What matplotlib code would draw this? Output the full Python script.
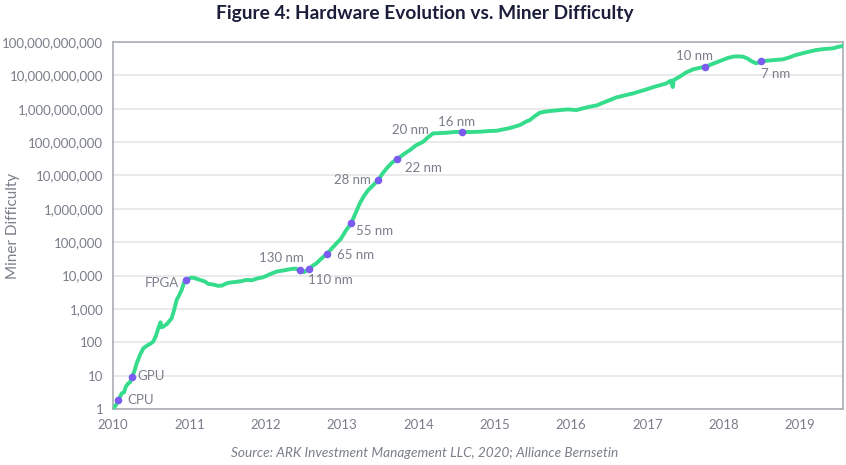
import numpy as np
import matplotlib.pyplot as plt
from matplotlib.ticker import FixedLocator, FuncFormatter

# Difficulty line (year, log10 of difficulty)
years = [
    2010.000, 2010.039, 2010.069, 2010.114, 2010.144, 2010.170, 2010.200, 2010.223,
    2010.245, 2010.275, 2010.310, 2010.353, 2010.397, 2010.445, 2010.484, 2010.527,
    2010.563, 2010.593, 2010.622, 2010.628, 2010.658, 2010.707, 2010.768, 2010.798,
    2010.834, 2010.864, 2010.899, 2010.929, 2010.952, 2010.982, 2011.030, 2011.073,
    2011.139, 2011.204, 2011.247, 2011.313, 2011.378, 2011.427, 2011.479, 2011.531,
    2011.610, 2011.675, 2011.750, 2011.819, 2011.885, 2011.967, 2012.055, 2012.143,
    2012.225, 2012.317, 2012.382, 2012.448, 2012.500, 2012.569, 2012.618, 2012.666,
    2012.723, 2012.797, 2012.853, 2012.928, 2012.984, 2013.050, 2013.119, 2013.181,
    2013.233, 2013.285, 2013.342, 2013.403, 2013.473, 2013.527, 2013.582, 2013.652,
    2013.721, 2013.796, 2013.887, 2013.966, 2014.062, 2014.123, 2014.192, 2014.280,
    2014.368, 2014.463, 2014.564, 2014.673, 2014.804, 2014.908, 2015.022, 2015.065,
    2015.196, 2015.327, 2015.415, 2015.458, 2015.524, 2015.589, 2015.654, 2015.720,
    2015.851, 2015.955, 2016.069, 2016.152, 2016.243, 2016.335, 2016.418, 2016.505,
    2016.593, 2016.702, 2016.810, 2016.898, 2016.986, 2017.094, 2017.186, 2017.247,
    2017.304, 2017.330, 2017.343, 2017.421, 2017.500, 2017.596, 2017.670, 2017.749,
    2017.814, 2017.902, 2017.971, 2018.050, 2018.119, 2018.181, 2018.250, 2018.312,
    2018.364, 2018.425, 2018.491, 2018.573, 2018.665, 2018.773, 2018.861, 2018.927,
    2018.992, 2019.097, 2019.211, 2019.319, 2019.428, 2019.490, 2019.551,
]
log_difficulty = [
    0.00, 0.12, 0.26, 0.47, 0.50, 0.68, 0.77, 0.80,
    0.96, 1.10, 1.37, 1.62, 1.82, 1.90, 1.95, 2.02,
    2.20, 2.42, 2.60, 2.45, 2.47, 2.55, 2.72, 2.95,
    3.27, 3.40, 3.57, 3.78, 3.87, 3.90, 3.94, 3.92,
    3.87, 3.82, 3.75, 3.73, 3.69, 3.70, 3.76, 3.79,
    3.81, 3.83, 3.87, 3.86, 3.91, 3.95, 4.04, 4.12,
    4.15, 4.19, 4.21, 4.16, 4.10, 4.21, 4.30, 4.37,
    4.50, 4.64, 4.78, 4.97, 5.10, 5.35, 5.57, 5.90,
    6.17, 6.38, 6.56, 6.70, 6.86, 7.05, 7.21, 7.38,
    7.49, 7.62, 7.76, 7.90, 8.01, 8.14, 8.26, 8.27,
    8.28, 8.30, 8.31, 8.30, 8.31, 8.33, 8.34, 8.36,
    8.42, 8.51, 8.62, 8.66, 8.78, 8.88, 8.91, 8.93,
    8.96, 8.98, 8.96, 9.01, 9.06, 9.10, 9.18, 9.26,
    9.34, 9.40, 9.46, 9.52, 9.58, 9.66, 9.72, 9.76,
    9.84, 9.65, 9.86, 9.96, 10.08, 10.18, 10.22, 10.26,
    10.31, 10.39, 10.45, 10.52, 10.56, 10.57, 10.56, 10.50,
    10.42, 10.36, 10.43, 10.44, 10.46, 10.48, 10.54, 10.60,
    10.64, 10.70, 10.76, 10.79, 10.81, 10.85, 10.88,
]

# Hardware milestones
hw_labels = ["CPU", "GPU", "FPGA", "130 nm", "110 nm", "65 nm", "55 nm",
             "28 nm", "22 nm", "20 nm", "16 nm", "10 nm", "7 nm"]
hw_years = [2010.069, 2010.245, 2010.952, 2012.448, 2012.569, 2012.797, 2013.119,
            2013.473, 2013.721, 2013.90, 2014.564, 2017.749, 2018.491]
hw_log = [0.26, 0.96, 3.87, 4.16, 4.21, 4.64, 5.57,
          6.86, 7.49, 7.78, 8.31, 10.26, 10.43]
hw_has_dot = [True, True, True, True, True, True, True,
              True, True, False, True, True, True]

x_ticks = list(range(2010, 2020))
y_ticks = [10 ** k for k in range(0, 12)]

difficulty = 10 ** np.array(log_difficulty)
hw_values = 10 ** np.array(hw_log)

# label offsets in pixels and alignment
offsets = [(9, 0, "left"), (6, 1, "left"), (-7, -3, "right"), (-19, 12, "center"),
           (21, -11, "center"), (10, -1, "left"), (5, -8, "left"), (-7, 0, "right"),
           (8, -9, "left"), (0, 19, "center"), (-5, 10, "center"), (-10, 11, "center"),
           (14, -13, "center")]

plt.rcParams['font.family'] = ['Lato', 'DejaVu Sans']
text_gray = '#7a7e8a'

fig = plt.figure(figsize=(8.46, 4.65), dpi=100)
ax = fig.add_axes([0.1336, 0.1204, 0.8629, 0.7893])

ax.plot(years, difficulty, color='#35dc8c', linewidth=2.8, solid_joinstyle='round', zorder=3)

for lab, x, v, dot, (dx, dy, ha) in zip(hw_labels, hw_years, hw_values, hw_has_dot, offsets):
    if dot:
        ax.scatter([x], [v], s=30, color='#7b5cf0', zorder=4, linewidths=0)
    ax.annotate(lab, (x, v), xytext=(dx, dy), textcoords='offset pixels',
                ha=ha, va='center', fontsize=9.5, color=text_gray)

ax.set_yscale('log')
ax.set_ylim(1, 1e11)
ax.set_xlim(2010, 2019.56)
ax.yaxis.set_major_locator(FixedLocator(y_ticks))
ax.yaxis.set_minor_locator(FixedLocator([]))
ax.yaxis.set_major_formatter(FuncFormatter(lambda v, p: f"{int(round(v)):,}"))
ax.set_xticks(x_ticks)
ax.tick_params(axis='both', length=0, labelsize=9.5, labelcolor=text_gray, pad=7)
ax.grid(axis='y', color='#e6e6e6', linewidth=1.2, zorder=0)
for s in ax.spines.values():
    s.set_color('#a9adb4')
    s.set_linewidth(1.2)

ax.set_ylabel('Miner Difficulty', fontsize=11, color=text_gray)
ax.yaxis.set_label_coords(-0.128, 0.5)

fig.text(0.502, 0.97, 'Figure 4: Hardware Evolution vs. Miner Difficulty',
         ha='center', va='center', fontsize=13.8, fontweight='bold', color='#1b1e3a')
fig.text(0.502, 0.026, 'Source: ARK Investment Management LLC, 2020; Alliance Bernsetin',
         ha='center', va='center', fontsize=9.8, style='italic', color=text_gray)

fig.savefig('out.png', dpi=100)
